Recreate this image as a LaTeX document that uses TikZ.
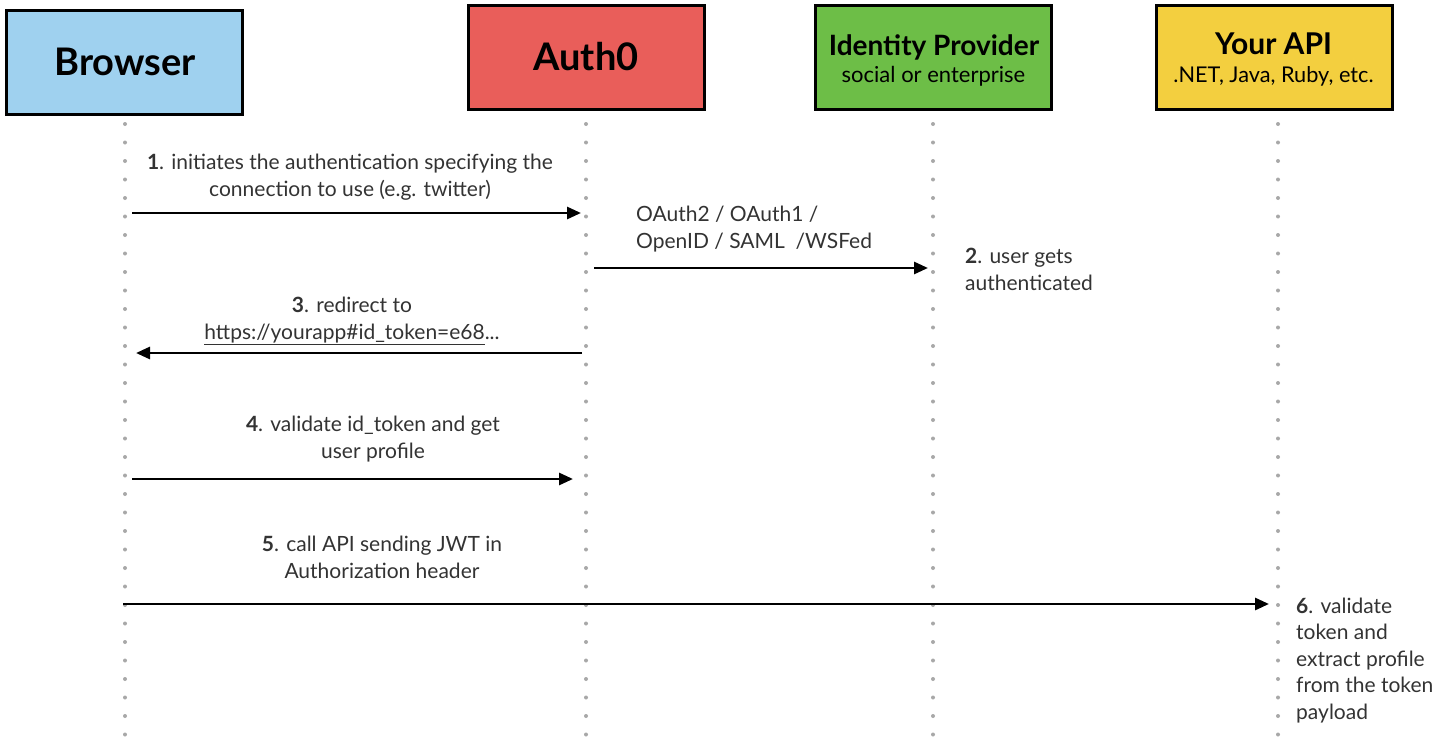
\documentclass[tikz,border=0pt]{standalone}
\usepackage{fontspec}
\setmainfont{Lato}
\usetikzlibrary{arrows.meta}
\definecolor{cBrowser}{HTML}{9FD1EF}
\definecolor{cAuth}{HTML}{E95E5A}
\definecolor{cIdp}{HTML}{6DBE47}
\definecolor{cApi}{HTML}{F3CF3F}
\definecolor{dotgray}{HTML}{A8A8A8}
\definecolor{txt}{HTML}{333333}
\tikzset{
  actor/.style={draw=black, line width=3pt, minimum width=236pt, minimum height=104pt, inner sep=0pt},
  hdr/.style={text=black, inner sep=0pt, anchor=base},
  lifeline/.style={dotgray, line width=4pt, line cap=round, dash pattern=on 0pt off 18.5pt},
  msg/.style={line width=2.8pt, -{Triangle[length=14pt,width=12pt]}},
  lbl/.style={text=txt, font=\fontsize{21}{27}\selectfont, inner sep=0pt, align=center, anchor=base},
  lbll/.style={text=txt, font=\fontsize{21}{27}\selectfont, inner sep=0pt, align=left, anchor=base west},
}
\begin{document}
\begin{tikzpicture}[x=1pt,y=-1pt]
\useasboundingbox (0,0) rectangle (1444,744);
\fill[white] (0,0) rectangle (1444,744);
% actors
\node[actor, fill=cBrowser] (browser) at (124,62) {};
\node[actor, fill=cAuth] (auth) at (586.5,57) {};
\node[actor, fill=cIdp] (idp) at (933.5,57) {};
\node[actor, fill=cApi] (api) at (1274,57) {};
\node[hdr, font=\bfseries\fontsize{38}{40}\selectfont] (browsert) at (125,75) {Browser};
\node[hdr, font=\bfseries\fontsize{38}{40}\selectfont] (autht) at (586,70) {Auth0};
\node[hdr, font=\bfseries\fontsize{28}{30}\selectfont] (idpt) at (934,55) {Identity Provider};
\node[hdr, font=\fontsize{22}{24}\selectfont] (idps) at (933.5,82) {social or enterprise};
\node[hdr, font=\bfseries\fontsize{30}{32}\selectfont] (apit) at (1273.5,54) {Your API};
\node[hdr, font=\fontsize{21.7}{24}\selectfont] (apis) at (1273.5,82) {.NET, Java, Ruby, etc.};
% lifelines
\coordinate (lb) at (125,124); \coordinate (lbe) at (125,744);
\coordinate (la) at (586,124); \coordinate (lae) at (586,744);
\coordinate (li) at (933,124); \coordinate (lie) at (933,744);
\coordinate (lp) at (1278,124); \coordinate (lpe) at (1278,744);
\draw[lifeline] (lb) -- (lbe);
\draw[lifeline] (la) -- (lae);
\draw[lifeline] (li) -- (lie);
\draw[lifeline] (lp) -- (lpe);
% message end points
\coordinate (m1s) at (132,213); \coordinate (m1e) at (581,213);
\coordinate (m2s) at (594,268); \coordinate (m2e) at (928,268);
\coordinate (m3s) at (582,353); \coordinate (m3e) at (136,353);
\coordinate (m4s) at (132,479); \coordinate (m4e) at (573,479);
\coordinate (m5s) at (123,604); \coordinate (m5e) at (1269,604);
\draw[msg] (m1s) -- (m1e);
\draw[msg] (m2s) -- (m2e);
\draw[msg] (m3s) -- (m3e);
\draw[msg] (m4s) -- (m4e);
\draw[msg] (m5s) -- (m5e);
% labels (anchor = baseline of last line)
\node[lbl] (t1) at (350,196) {{\bfseries 1}. initiates the authentication specifying the\\connection to use (e.g. twitter)};
\node[lbll] (t2a) at (636,248) {OAuth2 / OAuth1 /\\OpenID / SAML\ \ /WSFed};
\node[lbll] (t2) at (965,290) {{\bfseries 2}. user gets\\authenticated};
\node[lbl] (t3) at (352,339) {{\bfseries 3}. redirect to\\\underline{https://yourapp\#id\_token=e68}...};
\node[lbl] (t4) at (373,458) {{\bfseries 4}. validate id\_token and get\\user profile};
\node[lbl] (t5) at (382,578) {{\bfseries 5}. call API sending JWT in\\Authorization header};
\node[lbll, font=\fontsize{21}{26.5}\selectfont] (t6) at (1296,719) {{\bfseries 6}. validate\\token and\\extract profile\\from the token\\payload};
\end{tikzpicture}
\end{document}
